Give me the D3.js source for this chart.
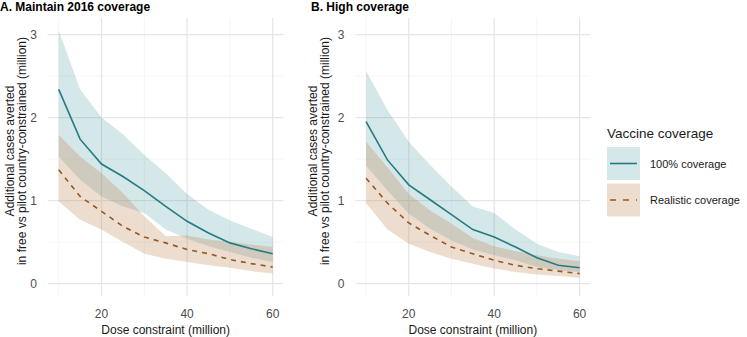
<!DOCTYPE html>
<html>
<head>
<meta charset="utf-8">
<script src="https://cdn.jsdelivr.net/npm/d3@7.9.0/dist/d3.min.js"></script>
<style>
  body { margin: 0; background: #fff; }
  svg { display: block; font-family: "Liberation Sans", Arial, sans-serif; }
</style>
</head>
<body>
<div id="chart"></div>
<script>
// dose constraint (million)
const doses = [10, 15, 20, 25, 30, 35, 40, 45, 50, 55, 60];

// A. Maintain 2016 coverage
const aFullMid = [2.34, 1.74, 1.44, 1.29, 1.12, 0.93, 0.75, 0.61, 0.49, 0.42, 0.36];
const aFullHi  = [3.05, 2.34, 2.00, 1.80, 1.55, 1.33, 1.08, 0.89, 0.76, 0.66, 0.56];
const aFullLo  = [1.53, 1.25, 1.05, 0.93, 0.85, 0.65, 0.54, 0.45, 0.38, 0.31, 0.26];
const aRealMid = [1.37, 1.05, 0.87, 0.69, 0.56, 0.49, 0.41, 0.36, 0.29, 0.24, 0.20];
const aRealHi  = [1.79, 1.53, 1.33, 1.09, 0.81, 0.57, 0.58, 0.53, 0.50, 0.47, 0.44];
const aRealLo  = [0.99, 0.77, 0.65, 0.50, 0.36, 0.30, 0.26, 0.22, 0.19, 0.15, 0.12];

// B. High coverage
const bFullMid = [1.95, 1.49, 1.19, 1.01, 0.83, 0.65, 0.56, 0.44, 0.31, 0.22, 0.19];
const bFullHi  = [2.56, 2.09, 1.71, 1.43, 1.17, 0.93, 0.85, 0.65, 0.48, 0.38, 0.33];
const bFullLo  = [1.42, 1.12, 0.84, 0.66, 0.52, 0.41, 0.34, 0.28, 0.20, 0.16, 0.14];
const bRealMid = [1.27, 0.97, 0.73, 0.58, 0.44, 0.36, 0.28, 0.22, 0.18, 0.15, 0.12];
const bRealHi  = [1.71, 1.40, 1.08, 0.88, 0.72, 0.55, 0.45, 0.39, 0.34, 0.30, 0.27];
const bRealLo  = [0.97, 0.65, 0.48, 0.38, 0.30, 0.24, 0.18, 0.14, 0.11, 0.09, 0.07];

const xTicks = [20, 40, 60];
const xMinor = [10, 30, 50];
const yTicks = [0, 1, 2, 3];
const yMinor = [0.5, 1.5, 2.5];

const seriesNames = ["100% coverage", "Realistic coverage"];

const width = 747, height = 337;
const tealLine = "#247b81", tealFill = "#3a929b";
const tanLine = "#9a5520", tanFill = "#bd8550";

const svg = d3.select("#chart").append("svg")
  .attr("width", width).attr("height", height);

const yScale = d3.scaleLinear().domain([-0.15, 3.2]).range([296, 18]);

const panels = [
  { title: "A. Maintain 2016 coverage", titleX: 0, x0: 48, x1: 283.4, titleYX: 16,
    full: [aFullLo, aFullMid, aFullHi], real: [aRealLo, aRealMid, aRealHi] },
  { title: "B. High coverage", titleX: 311, x0: 355.4, x1: 590.3, titleYX: 319,
    full: [bFullLo, bFullMid, bFullHi], real: [bRealLo, bRealMid, bRealHi] }
];

panels.forEach((p) => {
  const xScale = d3.scaleLinear().domain([7.5, 62.5]).range([p.x0, p.x1]);
  const g = svg.append("g");
  const [top, bottom] = [yScale.range()[1], yScale.range()[0]];

  // minor grid
  g.selectAll("line.xmin").data(xMinor).join("line")
    .attr("x1", (d) => xScale(d)).attr("x2", (d) => xScale(d))
    .attr("y1", top).attr("y2", bottom)
    .attr("stroke", "#f2f2f2").attr("stroke-width", 0.8);
  g.selectAll("line.ymin").data(yMinor).join("line")
    .attr("x1", p.x0).attr("x2", p.x1)
    .attr("y1", (d) => yScale(d)).attr("y2", (d) => yScale(d))
    .attr("stroke", "#f2f2f2").attr("stroke-width", 0.8);
  // major grid
  g.append("g").selectAll("line").data(xTicks).join("line")
    .attr("x1", (d) => xScale(d)).attr("x2", (d) => xScale(d))
    .attr("y1", top).attr("y2", bottom)
    .attr("stroke", "#e6e6e6").attr("stroke-width", 1.3);
  g.append("g").selectAll("line").data(yTicks).join("line")
    .attr("x1", p.x0).attr("x2", p.x1)
    .attr("y1", (d) => yScale(d)).attr("y2", (d) => yScale(d))
    .attr("stroke", "#e6e6e6").attr("stroke-width", 1.3);

  const area = (lo, hi) => d3.area()
    .x((d, i) => xScale(doses[i]))
    .y0((d, i) => yScale(lo[i]))
    .y1((d, i) => yScale(hi[i]))(doses);
  const line = (mid) => d3.line()
    .x((d, i) => xScale(doses[i]))
    .y((d, i) => yScale(mid[i]))(doses);

  g.append("path").attr("d", area(p.full[0], p.full[2]))
    .attr("fill", tealFill).attr("fill-opacity", 0.22);
  g.append("path").attr("d", area(p.real[0], p.real[2]))
    .attr("fill", tanFill).attr("fill-opacity", 0.28);
  g.append("path").attr("d", line(p.full[1]))
    .attr("fill", "none").attr("stroke", tealLine).attr("stroke-width", 1.6);
  g.append("path").attr("d", line(p.real[1]))
    .attr("fill", "none").attr("stroke", tanLine).attr("stroke-width", 1.6)
    .attr("stroke-dasharray", "5,5");

  // tick labels
  g.append("g").selectAll("text").data(yTicks).join("text")
    .attr("x", p.x0 - 11).attr("y", (d) => yScale(d) + 4)
    .attr("text-anchor", "end").attr("font-size", 12).attr("fill", "#4d4d4d")
    .text((d) => d);
  g.append("g").selectAll("text").data(xTicks).join("text")
    .attr("x", (d) => xScale(d)).attr("y", 318)
    .attr("text-anchor", "middle").attr("font-size", 12).attr("fill", "#4d4d4d")
    .text((d) => d);

  // axis titles
  g.append("text")
    .attr("x", (p.x0 + p.x1) / 2).attr("y", 334)
    .attr("text-anchor", "middle").attr("font-size", 12).attr("fill", "#1a1a1a")
    .text("Dose constraint (million)");
  const yt = g.append("text")
    .attr("transform", `translate(${p.titleYX},${(top + bottom) / 2 - 6}) rotate(-90)`)
    .attr("text-anchor", "middle").attr("font-size", 12).attr("fill", "#1a1a1a");
  yt.append("tspan").attr("x", 0).attr("dy", -2).text("Additional cases averted");
  yt.append("tspan").attr("x", 0).attr("dy", 12).text("in free vs pilot country-constrained (million)");

  // panel title
  g.append("text").attr("x", p.titleX).attr("y", 11)
    .attr("font-size", 12).attr("font-weight", "bold").attr("fill", "#000")
    .text(p.title);
});

// legend
const lg = svg.append("g").attr("transform", "translate(607,0)");
lg.append("text").attr("x", 0).attr("y", 138)
  .attr("font-size", 13.5).attr("fill", "#1a1a1a").text("Vaccine coverage");
const keys = lg.selectAll("g.key").data(seriesNames).join("g")
  .attr("class", "key")
  .attr("transform", (d, i) => `translate(0,${147 + i * 36.5})`);
keys.append("rect").attr("width", 33).attr("height", 33)
  .attr("fill", (d, i) => i === 0 ? tealFill : tanFill)
  .attr("fill-opacity", (d, i) => i === 0 ? 0.22 : 0.28);
keys.append("line").attr("x1", 3).attr("x2", 30).attr("y1", 16.5).attr("y2", 16.5)
  .attr("stroke", (d, i) => i === 0 ? tealLine : tanLine)
  .attr("stroke-width", 1.6)
  .attr("stroke-dasharray", (d, i) => i === 0 ? null : "6,7");
keys.append("text").attr("x", 43).attr("y", 20.5)
  .attr("font-size", 11).attr("fill", "#1a1a1a").text((d) => d);
</script>
</body>
</html>
